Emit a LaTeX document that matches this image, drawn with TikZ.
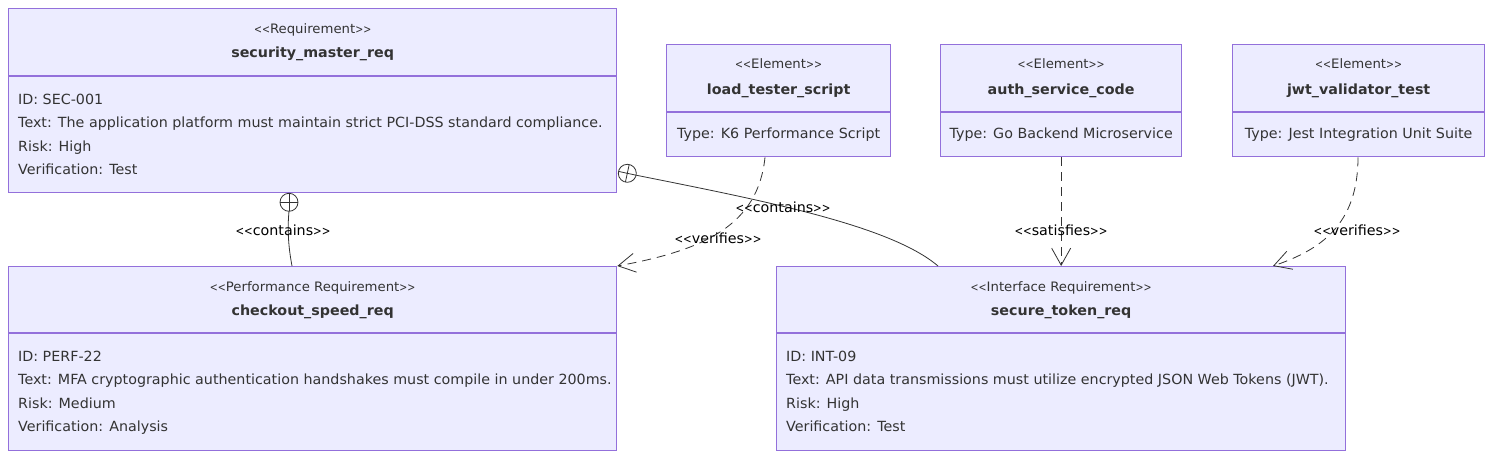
\documentclass[tikz,border=0pt]{standalone}
\usepackage{fontspec}
\usepackage{graphicx}
\setmainfont{DejaVu Sans}[FakeStretch=1.02]
\usetikzlibrary{arrows.meta,calc}
\definecolor{boxfill}{HTML}{ECECFF}
\definecolor{boxdraw}{HTML}{9370DB}
\definecolor{txt}{HTML}{333333}
\newcommand{\nlt}{\scalebox{0.72}[0.9]{<}}
\newcommand{\ngt}{\scalebox{0.72}[0.9]{>}}
\newcommand{\stereo}[1]{\nlt\nlt#1\ngt\ngt}
\begin{document}
\begin{tikzpicture}[x=1pt,y=-1pt,
 reqbox/.style={draw=boxdraw, fill=boxfill, line width=1.3pt, rectangle, inner sep=0pt, anchor=north west},
 divider/.style={draw=boxdraw, line width=1.3pt},
 sttext/.style={inner sep=0pt, anchor=base, text=txt, font=\fontsize{13}{15}\selectfont},
 nametext/.style={inner sep=0pt, anchor=base, text=txt, font=\fontsize{14}{16}\selectfont\bfseries},
 bodytext/.style={inner sep=0pt, anchor=base west, text=txt, font=\fontsize{14}{16}\selectfont},
 eltext/.style={inner sep=0pt, anchor=base, text=txt, font=\fontsize{14}{16}\selectfont},
 edgelabel/.style={inner sep=0pt, anchor=base, text=black, font=\fontsize{14}{16}\selectfont},
 rel/.style={draw=txt, line width=0.8pt},
 dashedrel/.style={rel, dash pattern=on 9pt off 6pt, -{Straight Barb[length=17pt, width=19pt]}},
]
\fill[white] (0,0) rectangle (1492,458);
\useasboundingbox (0,0) rectangle (1492,458);

% ---------- boxes ----------
\node[reqbox, minimum width=608pt, minimum height=183.5pt] (sec) at (8,8) {};
\draw[divider] ($(sec.north west)+(0,68)$) -- ($(sec.north east)+(0,68)$);
\node[sttext] (secst) at ($(sec.north)+(0,25)$) {\stereo{Requirement}};
\node[nametext] (secnm) at ($(sec.north)+(0,49.5)$) {security\_master\_req};
\node[bodytext] (sec1) at ($(sec.north west)+(10,96)$) {ID: SEC-001};
\node[bodytext] (sec2) at ($(sec.north west)+(10,119.5)$) {Text: The application platform must maintain strict PCI-DSS standard compliance.};
\node[bodytext] (sec3) at ($(sec.north west)+(10,143)$) {Risk: High};
\node[bodytext] (sec4) at ($(sec.north west)+(10,166.5)$) {Verification: Test};

\node[reqbox, minimum width=608pt, minimum height=183.5pt] (chk) at (8,266) {};
\draw[divider] ($(chk.north west)+(0,67)$) -- ($(chk.north east)+(0,67)$);
\node[sttext] (chkst) at ($(chk.north)+(0,25)$) {\stereo{Performance Requirement}};
\node[nametext] (chknm) at ($(chk.north)+(0,49.5)$) {checkout\_speed\_req};
\node[bodytext] (chk1) at ($(chk.north west)+(10,95)$) {ID: PERF-22};
\node[bodytext] (chk2) at ($(chk.north west)+(10,118.5)$) {Text: MFA cryptographic authentication handshakes must compile in under 200ms.};
\node[bodytext] (chk3) at ($(chk.north west)+(10,142)$) {Risk: Medium};
\node[bodytext] (chk4) at ($(chk.north west)+(10,165.5)$) {Verification: Analysis};

\node[reqbox, minimum width=569pt, minimum height=183.5pt] (tok) at (776,266) {};
\draw[divider] ($(tok.north west)+(0,67)$) -- ($(tok.north east)+(0,67)$);
\node[sttext] (tokst) at ($(tok.north)+(0,25)$) {\stereo{Interface Requirement}};
\node[nametext] (toknm) at ($(tok.north)+(0,49.5)$) {secure\_token\_req};
\node[bodytext] (tok1) at ($(tok.north west)+(10,95)$) {ID: INT-09};
\node[bodytext] (tok2) at ($(tok.north west)+(10,118.5)$) {Text: API data transmissions must utilize encrypted JSON Web Tokens (JWT).};
\node[bodytext] (tok3) at ($(tok.north west)+(10,142)$) {Risk: High};
\node[bodytext] (tok4) at ($(tok.north west)+(10,165.5)$) {Verification: Test};

\node[reqbox, minimum width=224pt, minimum height=112pt] (lts) at (666,44) {};
\draw[divider] ($(lts.north west)+(0,68)$) -- ($(lts.north east)+(0,68)$);
\node[sttext] (ltsst) at ($(lts.north)+(0,24.5)$) {\stereo{Element}};
\node[nametext] (ltsnm) at ($(lts.north)+(0,50)$) {load\_tester\_script};
\node[eltext] (lts1) at ($(lts.north)+(0,94.5)$) {Type: K6 Performance Script};

\node[reqbox, minimum width=241pt, minimum height=112pt] (asc) at (940,44) {};
\draw[divider] ($(asc.north west)+(0,68)$) -- ($(asc.north east)+(0,68)$);
\node[sttext] (ascst) at ($(asc.north)+(0,24.5)$) {\stereo{Element}};
\node[nametext] (ascnm) at ($(asc.north)+(0,50)$) {auth\_service\_code};
\node[eltext] (asc1) at ($(asc.north)+(0,94.5)$) {Type: Go Backend Microservice};

\node[reqbox, minimum width=252pt, minimum height=112pt] (jwt) at (1232,44) {};
\draw[divider] ($(jwt.north west)+(0,68)$) -- ($(jwt.north east)+(0,68)$);
\node[sttext] (jwtst) at ($(jwt.north)+(0,24.5)$) {\stereo{Element}};
\node[nametext] (jwtnm) at ($(jwt.north)+(0,50)$) {jwt\_validator\_test};
\node[eltext] (jwt1) at ($(jwt.north)+(0,94.5)$) {Type: Jest Integration Unit Suite};

% ---------- contains: sec -> chk ----------
\coordinate (c1) at ($(sec.south west)+(281,9.5)$);
\draw[rel] (c1) circle[radius=9pt];
\draw[rel] ($(c1)+(-9,0)$) -- ($(c1)+(9,0)$) ($(c1)+(0,-9)$) -- ($(c1)+(0,9)$);
\draw[rel] ($(c1)+(0,9)$) .. controls (287,232) and (289,250) .. ($(chk.north west)+(284,0)$);

% ---------- contains: sec -> tok ----------
\coordinate (c2) at ($(sec.south east)+(10,-19.5)$);
\draw[rel] (c2) circle[radius=9pt];
\draw[rel] ($(c2)+(-8.8,-1.9)$) -- ($(c2)+(8.8,1.9)$) ($(c2)+(1.9,-8.8)$) -- ($(c2)+(-1.9,8.8)$);
\draw[rel] ($(c2)+(8.8,1.9)$) .. controls (760,200) and (890,225) .. ($(tok.north west)+(162,0)$);

% ---------- verifies / satisfies ----------
\draw[dashedrel] ($(lts.south west)+(99,0)$) .. controls (758,225) and (705,250) .. (chk.north east);
\draw[dashedrel] (asc.south) -- (asc.south |- tok.north);
\draw[dashedrel] ($(jwt.south west)+(126,0)$) .. controls (1358,225) and (1320,250) .. ($(tok.north west)+(497,0)$);

% ---------- edge labels ----------
\node[edgelabel] (lab1) at (283,235) {\stereo{contains}};
\node[edgelabel] (lab2) at (783,212) {\stereo{contains}};
\node[edgelabel] (lab3) at (718,243) {\stereo{verifies}};
\node[edgelabel] (lab4) at (1061,235) {\stereo{satisfies}};
\node[edgelabel] (lab5) at (1357,235) {\stereo{verifies}};
\end{tikzpicture}
\end{document}
